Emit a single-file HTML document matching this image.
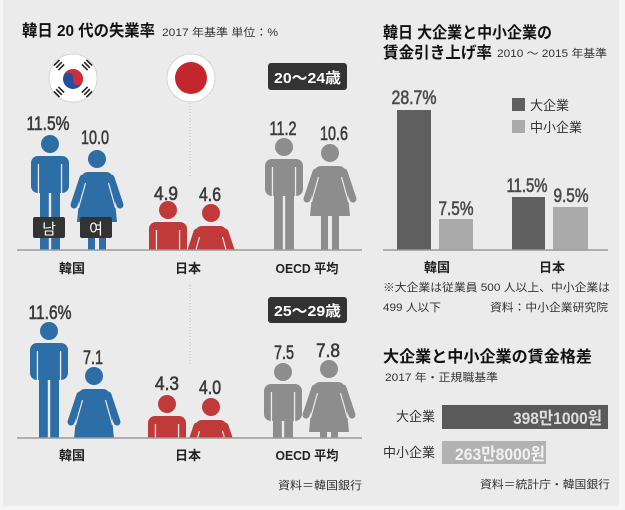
<!DOCTYPE html>
<html><head><meta charset="utf-8">
<style>
html,body{margin:0;padding:0;background:#f5f5f5;}
svg{display:block;}
text{font-family:"Liberation Sans","Noto Sans CJK JP",sans-serif;}
.kr{font-family:"Liberation Sans","Noto Sans CJK KR",sans-serif;}
.v{font-size:19px;font-weight:normal;fill:#3a3a3a;stroke:#3a3a3a;stroke-width:0.6;text-anchor:middle;}
.lb{font-size:13px;font-weight:bold;fill:#222;text-anchor:middle;}
.sm{font-size:11px;fill:#333;}
</style></head>
<body>
<svg width="625" height="510" viewBox="0 0 625 510" xmlns="http://www.w3.org/2000/svg">
<defs>
  <clipPath id="cTop"><rect x="0" y="0" width="625" height="250"/></clipPath>
  <clipPath id="cBot"><rect x="0" y="280" width="625" height="158"/></clipPath>
  <g id="man">
    <circle cx="0" cy="9" r="9" fill="currentColor"/>
    <rect x="-19" y="21" width="38" height="37" rx="7" fill="currentColor"/>
    <rect x="-10" y="50" width="8.8" height="70" fill="currentColor"/>
    <rect x="1.2" y="50" width="8.8" height="70" fill="currentColor"/>
    <rect x="-12.2" y="29" width="1.3" height="30" fill="#ebebeb"/>
    <rect x="10.9" y="29" width="1.3" height="30" fill="#ebebeb"/>
  </g>
  <g id="woman">
    <circle cx="0" cy="9" r="9" fill="currentColor"/>
    <path d="M-9 22 L9 22 Q15 22 16 30 L20 72 L-20 72 L-16 30 Q-15 22 -9 22 Z" fill="currentColor"/>
    <line x1="-14" y1="28" x2="-23" y2="55" stroke="currentColor" stroke-width="7" stroke-linecap="round"/>
    <line x1="14" y1="28" x2="23" y2="55" stroke="currentColor" stroke-width="7" stroke-linecap="round"/>
    <line x1="-11.5" y1="33" x2="-18.5" y2="58" stroke="#ebebeb" stroke-width="1.2"/>
    <line x1="11.5" y1="33" x2="18.5" y2="58" stroke="#ebebeb" stroke-width="1.2"/>
    <rect x="-9" y="70" width="7" height="50" fill="currentColor"/>
    <rect x="2" y="70" width="7" height="50" fill="currentColor"/>
  </g>
</defs>

<rect x="3" y="0" width="616" height="506" fill="#ebebeb"/>

<!-- LEFT PANEL -->
<text x="22" y="36" font-size="16" font-weight="bold" fill="#111" textLength="133" lengthAdjust="spacingAndGlyphs">韓日 20 代の失業率</text>
<text x="162" y="36" class="sm" textLength="116" lengthAdjust="spacingAndGlyphs">2017 年基準 単位：%</text>

<!-- Korea flag -->
<circle cx="73" cy="78" r="24" fill="#fff" stroke="#d6d6d6" stroke-width="1"/>
<g transform="rotate(15 73 79)">
  <circle cx="73" cy="79" r="10" fill="#1f4fa0"/>
  <path d="M63 79 A10 10 0 0 1 83 79 A5 5 0 0 1 73 79 A5 5 0 0 0 63 79 Z" fill="#cd2e3a"/>
</g>
<g fill="#222">
  <g transform="translate(59,65) rotate(-45)"><rect x="-4" y="-4" width="8" height="1.6"/><rect x="-4" y="-0.8" width="8" height="1.6"/><rect x="-4" y="2.4" width="8" height="1.6"/></g>
  <g transform="translate(87,65) rotate(45)"><rect x="-4" y="-4" width="8" height="1.6"/><rect x="-4" y="-0.8" width="8" height="1.6"/><rect x="-4" y="2.4" width="8" height="1.6"/></g>
  <g transform="translate(59,92) rotate(45)"><rect x="-4" y="-4" width="8" height="1.6"/><rect x="-4" y="-0.8" width="8" height="1.6"/><rect x="-4" y="2.4" width="8" height="1.6"/></g>
  <g transform="translate(87,92) rotate(-45)"><rect x="-4" y="-4" width="8" height="1.6"/><rect x="-4" y="-0.8" width="8" height="1.6"/><rect x="-4" y="2.4" width="8" height="1.6"/></g>
</g>

<!-- Japan flag -->
<circle cx="191" cy="78" r="24" fill="#fff" stroke="#d6d6d6" stroke-width="1"/>
<circle cx="191" cy="78" r="16" fill="#c4262e"/>

<line x1="190" y1="103" x2="190" y2="176" stroke="#bdbdbd" stroke-width="1" stroke-dasharray="1 2"/>
<line x1="190" y1="285" x2="190" y2="365" stroke="#bdbdbd" stroke-width="1" stroke-dasharray="1 2"/>

<!-- age boxes -->
<rect x="268" y="63" width="79" height="27" rx="3" fill="#333"/>
<text x="307.5" y="83" font-size="15" font-weight="bold" fill="#fff" text-anchor="middle" textLength="67" lengthAdjust="spacingAndGlyphs">20〜24歳</text>
<rect x="268" y="297" width="79" height="26" rx="3" fill="#333"/>
<text x="307.5" y="316" font-size="15" font-weight="bold" fill="#fff" text-anchor="middle" textLength="67" lengthAdjust="spacingAndGlyphs">25〜29歳</text>

<!-- top row figures -->
<g clip-path="url(#cTop)">
  <use href="#man" transform="translate(50,135)" style="color:#2e6ea6"/>
  <use href="#woman" transform="translate(97,150)" style="color:#2e6ea6"/>
  <use href="#man" transform="translate(168,201)" style="color:#c03a3a"/>
  <use href="#woman" transform="translate(211,204)" style="color:#c03a3a"/>
  <use href="#man" transform="translate(284,138)" style="color:#8d8d8d"/>
  <use href="#woman" transform="translate(330,144)" style="color:#8d8d8d"/>
</g>
<rect x="33" y="217" width="32" height="21" rx="2" fill="#333"/>
<text x="49" y="234" class="kr" font-size="15" fill="#fff" text-anchor="middle">남</text>
<rect x="80" y="217" width="32" height="21" rx="2" fill="#333"/>
<text x="96" y="234" class="kr" font-size="15" fill="#fff" text-anchor="middle">여</text>

<line x1="17" y1="250" x2="362" y2="250" stroke="#9a9a9a" stroke-width="1.5"/>

<text x="48" y="130" class="v" textLength="43" lengthAdjust="spacingAndGlyphs">11.5%</text>
<text x="95" y="144" class="v" textLength="28" lengthAdjust="spacingAndGlyphs">10.0</text>
<text x="166" y="200" class="v" textLength="24" lengthAdjust="spacingAndGlyphs">4.9</text>
<text x="210" y="201" class="v" textLength="22" lengthAdjust="spacingAndGlyphs">4.6</text>
<text x="283" y="135" class="v" textLength="27" lengthAdjust="spacingAndGlyphs">11.2</text>
<text x="334" y="140" class="v" textLength="28" lengthAdjust="spacingAndGlyphs">10.6</text>

<text x="72" y="273" class="lb">韓国</text>
<text x="188" y="273" class="lb">日本</text>
<text x="307" y="273" class="lb" textLength="63" lengthAdjust="spacingAndGlyphs">OECD 平均</text>

<!-- bottom row figures -->
<g clip-path="url(#cBot)">
  <use href="#man" transform="translate(49,322)" style="color:#2e6ea6"/>
  <use href="#woman" transform="translate(94,367)" style="color:#2e6ea6"/>
  <use href="#man" transform="translate(167,395)" style="color:#c03a3a"/>
  <use href="#woman" transform="translate(211,398)" style="color:#c03a3a"/>
  <use href="#man" transform="translate(283,363)" style="color:#8d8d8d"/>
  <use href="#woman" transform="translate(329,360)" style="color:#8d8d8d"/>
</g>
<line x1="17" y1="438" x2="362" y2="438" stroke="#9a9a9a" stroke-width="1.5"/>

<text x="50" y="319" class="v" textLength="43" lengthAdjust="spacingAndGlyphs">11.6%</text>
<text x="93" y="364" class="v" textLength="20" lengthAdjust="spacingAndGlyphs">7.1</text>
<text x="167" y="390" class="v" textLength="24" lengthAdjust="spacingAndGlyphs">4.3</text>
<text x="210" y="394" class="v" textLength="22" lengthAdjust="spacingAndGlyphs">4.0</text>
<text x="284" y="359" class="v" textLength="20" lengthAdjust="spacingAndGlyphs">7.5</text>
<text x="328" y="357" class="v" textLength="24" lengthAdjust="spacingAndGlyphs">7.8</text>

<text x="72" y="460" class="lb">韓国</text>
<text x="188" y="460" class="lb">日本</text>
<text x="307" y="460" class="lb" textLength="63" lengthAdjust="spacingAndGlyphs">OECD 平均</text>

<text x="278" y="489" class="sm" font-size="11.5" textLength="84" lengthAdjust="spacingAndGlyphs">資料＝韓国銀行</text>

<!-- RIGHT TOP PANEL -->
<text x="383" y="38" font-size="16" font-weight="bold" fill="#111" textLength="169" lengthAdjust="spacingAndGlyphs">韓日 大企業と中小企業の</text>
<text x="383" y="58" font-size="16" font-weight="bold" fill="#111" textLength="109" lengthAdjust="spacingAndGlyphs">賃金引き上げ率</text>
<text x="497" y="57" class="sm" textLength="110" lengthAdjust="spacingAndGlyphs">2010 ～ 2015 年基準</text>

<rect x="397" y="110" width="34" height="140" fill="#5f5f5f"/>
<rect x="439" y="219" width="34" height="31" fill="#ababab"/>
<rect x="512" y="197" width="33" height="53" fill="#5f5f5f"/>
<rect x="553" y="207" width="35" height="43" fill="#ababab"/>
<line x1="383" y1="250" x2="608" y2="250" stroke="#9a9a9a" stroke-width="1.5"/>

<text x="414" y="104" class="v" font-size="18" style="fill:#4a4a4a;stroke:#4a4a4a" textLength="45" lengthAdjust="spacingAndGlyphs">28.7%</text>
<text x="456" y="215" class="v" font-size="18" style="fill:#4a4a4a;stroke:#4a4a4a" textLength="35" lengthAdjust="spacingAndGlyphs">7.5%</text>
<text x="527" y="192" class="v" font-size="18" style="fill:#4a4a4a;stroke:#4a4a4a" textLength="41" lengthAdjust="spacingAndGlyphs">11.5%</text>
<text x="571" y="202" class="v" font-size="18" style="fill:#4a4a4a;stroke:#4a4a4a" textLength="35" lengthAdjust="spacingAndGlyphs">9.5%</text>

<rect x="512" y="98" width="13" height="13" fill="#5f5f5f"/>
<text x="530" y="110" font-size="13" fill="#333">大企業</text>
<rect x="512" y="120" width="13" height="13" fill="#ababab"/>
<text x="530" y="132" font-size="13" fill="#333">中小企業</text>

<text x="437" y="272" class="lb">韓国</text>
<text x="552" y="272" class="lb">日本</text>

<text x="383" y="291" class="sm" textLength="227" lengthAdjust="spacingAndGlyphs">※大企業は従業員 500 人以上、中小企業は</text>
<text x="383" y="311" class="sm" textLength="58" lengthAdjust="spacingAndGlyphs">499 人以下</text>
<text x="490" y="311" class="sm" textLength="118" lengthAdjust="spacingAndGlyphs">資料：中小企業研究院</text>

<!-- RIGHT BOTTOM PANEL -->
<text x="383" y="362" font-size="16" font-weight="bold" fill="#111" textLength="209" lengthAdjust="spacingAndGlyphs">大企業と中小企業の賃金格差</text>
<text x="385" y="381" class="sm" textLength="113" lengthAdjust="spacingAndGlyphs">2017 年・正規職基準</text>

<text x="435" y="421" font-size="13" fill="#333" text-anchor="end">大企業</text>
<rect x="442" y="405" width="166" height="24" fill="#5a5a5a"/>
<text x="513" y="424" class="kr" font-size="17" font-weight="bold" fill="#dedede" textLength="89" lengthAdjust="spacingAndGlyphs">398만1000원</text>

<text x="435" y="457" font-size="13" fill="#333" text-anchor="end">中小企業</text>
<rect x="442" y="441" width="104" height="23" fill="#b2b2b2"/>
<text x="455" y="460" class="kr" font-size="17" font-weight="bold" fill="#f2f2f2" textLength="90" lengthAdjust="spacingAndGlyphs">263만8000원</text>

<text x="480" y="488" class="sm" font-size="11.5" textLength="130" lengthAdjust="spacingAndGlyphs">資料＝統計庁・韓国銀行</text>
</svg>
</body></html>
